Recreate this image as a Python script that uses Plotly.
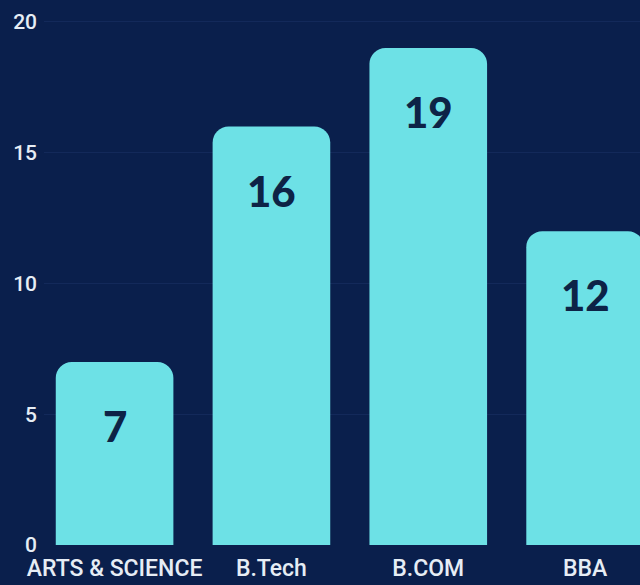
import plotly.graph_objects as go

categories = ["ARTS & SCIENCE", "B.Tech", "B.COM", "BBA"]
values = [7, 16, 19, 12]
y_ticks = [0, 5, 10, 15, 20]

bg = "#0a1f4c"
bar_color = "#6de1e6"

fig = go.Figure()
fig.add_trace(go.Bar(
    x=categories, y=values,
    marker=dict(color=bar_color, line=dict(width=0)),
    width=0.75,
    hoverinfo="skip",
))

for c, v in zip(categories, values):
    fig.add_annotation(
        x=c, y=v, xref="x", yref="y",
        text=str(v), showarrow=False,
        yanchor="middle", yshift=-64,
        font=dict(family="Lato", size=42, color="#0d2346", weight=900),
    )

fig.update_layout(
    width=640, height=585,
    margin=dict(l=44, r=0, t=0, b=40),
    paper_bgcolor=bg, plot_bgcolor=bg,
    barcornerradius=16,
    showlegend=False,
    xaxis=dict(
        range=[-0.45, 3.35],
        showgrid=False, zeroline=False, showline=False,
        tickfont=dict(family="Roboto", size=23, color="#e6edf5", weight=500),
        ticks="", ticklabelstandoff=7,
    ),
    yaxis=dict(
        range=[0, 20.84],
        tickvals=y_ticks,
        showgrid=True, gridcolor="#13295a", gridwidth=1,
        zeroline=False, showline=False,
        tickfont=dict(family="Roboto", size=21, color="#e6edf5", weight=500),
        ticks="", ticklabelstandoff=6,
    ),
)

fig.write_html(
    "out.html",
    config={"displayModeBar": False},
    post_script="document.body.style.margin='0';document.body.style.overflow='hidden';",
)
